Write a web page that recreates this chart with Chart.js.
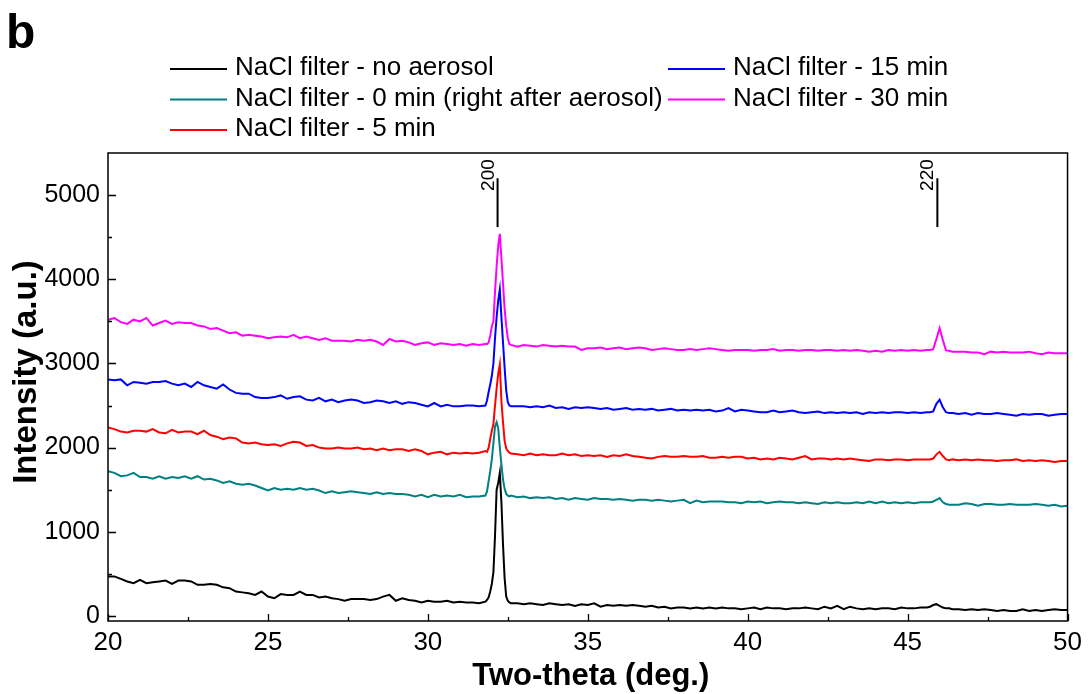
<!DOCTYPE html>
<html>
<head>
<meta charset="utf-8">
<title>NaCl filter XRD</title>
<script src="https://cdn.jsdelivr.net/npm/chart.js@4.4.1/dist/chart.umd.min.js"></script>
<style>
  html, body { margin: 0; padding: 0; background: #fff; }
  #wrap { width: 1088px; height: 694px; }
</style>
</head>
<body>
<div id="wrap"><canvas id="xrdChart" width="1088" height="694"></canvas></div>
<script>
// 2-theta positions (deg.), denser around the 200 and 220 reflections
const twoTheta = [
  20, 20.2, 20.4, 20.6, 20.8, 21, 21.2, 21.4, 21.6, 21.8,
  22, 22.2, 22.4, 22.6, 22.8, 23, 23.2, 23.4, 23.6, 23.8,
  24, 24.2, 24.4, 24.6, 24.8, 25, 25.2, 25.4, 25.6, 25.8,
  26, 26.2, 26.4, 26.6, 26.8, 27, 27.2, 27.4, 27.6, 27.8,
  28, 28.2, 28.4, 28.6, 28.8, 29, 29.2, 29.4, 29.6, 29.8,
  30, 30.2, 30.4, 30.6, 30.8, 31, 31.2, 31.4, 31.6, 31.8,
  31.85, 31.9, 31.95, 32, 32.05, 32.1, 32.15, 32.2, 32.25, 32.3, 32.35, 32.4, 32.45, 32.5, 32.55, 32.6,
  32.8, 33, 33.2, 33.4, 33.6, 33.8, 34, 34.2, 34.4, 34.6,
  34.8, 35, 35.2, 35.4, 35.6, 35.8, 36, 36.2, 36.4, 36.6,
  36.8, 37, 37.2, 37.4, 37.6, 37.8, 38, 38.2, 38.4, 38.6,
  38.8, 39, 39.2, 39.4, 39.6, 39.8, 40, 40.2, 40.4, 40.6,
  40.8, 41, 41.2, 41.4, 41.6, 41.8, 42, 42.2, 42.4, 42.6,
  42.8, 43, 43.2, 43.4, 43.6, 43.8, 44, 44.2, 44.4, 44.6,
  44.8, 45, 45.2, 45.4, 45.6,
  45.7, 45.8, 45.9, 46, 46.1, 46.2, 46.3,
  46.4, 46.6, 46.8, 47, 47.2, 47.4, 47.6, 47.8, 48, 48.2, 48.4, 48.6, 48.8, 49, 49.2, 49.4, 49.6, 49.8, 50
];

const noAerosol = [
  470, 470, 440, 410, 390, 430, 390, 400, 410, 420,
  380, 420, 420, 410, 370, 370, 380, 370, 340, 330,
  290, 280, 270, 250, 290, 230, 210, 260, 250, 250,
  290, 250, 250, 220, 230, 210, 200, 180, 200, 200,
  200, 190, 200, 230, 250, 180, 210, 190, 180, 160,
  180, 170, 170, 180, 160, 170, 160, 160, 150, 170,
  190, 220, 290, 380, 520, 950, 1500, 1580, 1700, 1350, 850, 450, 230, 180, 160, 150,
  150, 140, 150, 140, 130, 150, 140, 130, 140, 120,
  140, 130, 150, 110, 130, 120, 130, 120, 130, 120,
  110, 120, 100, 110, 90, 100, 100, 90, 100, 90,
  100, 90, 100, 90, 90, 80, 90, 100, 80, 100,
  90, 90, 80, 90, 90, 100, 90, 80, 110, 90,
  120, 80, 110, 90, 80, 90, 80, 90, 90, 80,
  100, 90, 90, 100, 100,
  110, 130, 140, 120, 100, 90, 90,
  80, 80, 70, 80, 70, 80, 70, 60, 70, 60, 60, 80, 60, 70, 60, 70, 80, 70, 70
];

const min0 = [
  1720, 1700, 1660, 1670, 1700, 1650, 1650, 1630, 1660, 1630,
  1650, 1640, 1660, 1630, 1660, 1620, 1630, 1610, 1580, 1600,
  1570, 1560, 1570, 1550, 1520, 1490, 1520, 1500, 1510, 1500,
  1520, 1500, 1510, 1490, 1460, 1480, 1460, 1470, 1480, 1470,
  1460, 1450, 1470, 1450, 1460, 1450, 1450, 1440, 1420, 1440,
  1410, 1440, 1420, 1430, 1420, 1440, 1410, 1420, 1420, 1430,
  1480, 1600, 1720, 1860, 2050, 2250, 2300, 2230, 2000, 1800, 1620, 1510, 1450, 1430, 1420, 1430,
  1410, 1420, 1400, 1410, 1400, 1410, 1390, 1400, 1380, 1400,
  1390, 1380, 1400, 1390, 1390, 1380, 1390, 1380, 1370, 1380,
  1380, 1370, 1380, 1370, 1360, 1370, 1380, 1340, 1370, 1350,
  1360, 1360, 1360, 1350, 1350, 1340, 1360, 1350, 1360, 1340,
  1350, 1360, 1350, 1350, 1340, 1350, 1340, 1330, 1350, 1340,
  1350, 1340, 1340, 1350, 1340, 1360, 1340, 1360, 1340, 1350,
  1340, 1350, 1340, 1350, 1350,
  1350, 1360, 1380, 1400, 1350, 1330, 1320,
  1320, 1320, 1340, 1330, 1310, 1330, 1330, 1320, 1320, 1330, 1320, 1320, 1320, 1330, 1320, 1310, 1320, 1300, 1310
];

const min5 = [
  2240, 2220, 2190, 2180, 2200, 2200, 2190, 2220, 2180, 2170,
  2210, 2180, 2190, 2190, 2160, 2200, 2150, 2130, 2100, 2120,
  2110, 2060, 2050, 2060, 2040, 2030, 2040, 2020, 2050, 2070,
  2060, 2020, 2030, 2000, 1990, 1990, 2000, 1990, 1990, 2000,
  1980, 1990, 1970, 1990, 1970, 1980, 1980, 1960, 1980, 1960,
  1920, 1940, 1950, 1920, 1940, 1930, 1940, 1930, 1940, 1960,
  1950, 2000, 2100, 2200, 2280, 2500, 2700, 2880, 2990, 2550, 2300, 2080, 1990, 1960, 1940, 1930,
  1920, 1910, 1930, 1910, 1920, 1910, 1910, 1930, 1910, 1920,
  1900, 1910, 1900, 1910, 1890, 1910, 1900, 1920, 1900, 1890,
  1880, 1870, 1890, 1900, 1890, 1890, 1900, 1890, 1890, 1900,
  1880, 1880, 1890, 1880, 1890, 1890, 1870, 1880, 1860, 1870,
  1860, 1880, 1870, 1860, 1880, 1900, 1860, 1870, 1870, 1860,
  1870, 1860, 1870, 1860, 1850, 1840, 1860, 1860, 1850, 1860,
  1860, 1850, 1860, 1860, 1860,
  1860, 1870, 1920, 1950, 1900, 1860, 1850,
  1860, 1850, 1860, 1850, 1860, 1850, 1850, 1840, 1850, 1850, 1860, 1840, 1850, 1840, 1850, 1840, 1830, 1840, 1840
];

const min15 = [
  2810, 2800, 2810, 2740, 2780, 2770, 2760, 2780, 2780, 2790,
  2760, 2740, 2760, 2720, 2780, 2740, 2720, 2700, 2750, 2690,
  2650, 2640, 2640, 2600, 2590, 2590, 2600, 2620, 2580, 2600,
  2610, 2570, 2560, 2590, 2550, 2570, 2540, 2560, 2570, 2560,
  2530, 2540, 2560, 2550, 2530, 2550, 2520, 2540, 2530, 2510,
  2490, 2530, 2490, 2510, 2490, 2490, 2500, 2500, 2490, 2500,
  2560, 2660, 2750, 2850, 3000, 3300, 3550, 3750, 3880, 3550, 3250, 2950, 2680, 2540, 2500, 2490,
  2490, 2490, 2480, 2490, 2480, 2500, 2470, 2480, 2460, 2480,
  2470, 2480, 2470, 2460, 2470, 2450, 2460, 2470, 2450, 2460,
  2450, 2460, 2440, 2450, 2460, 2440, 2450, 2440, 2450, 2440,
  2450, 2430, 2440, 2470, 2430, 2450, 2440, 2430, 2420, 2420,
  2440, 2420, 2430, 2440, 2420, 2410, 2420, 2430, 2410, 2420,
  2410, 2420, 2410, 2420, 2400, 2420, 2410, 2420, 2410, 2420,
  2420, 2410, 2420, 2410, 2420,
  2420, 2430, 2520, 2570, 2480, 2420, 2410,
  2410, 2400, 2410, 2390, 2410, 2400, 2400, 2410, 2400, 2390, 2380, 2400, 2390, 2400, 2400, 2380, 2390, 2400, 2400
];

const min30 = [
  3520, 3540, 3490, 3470, 3520, 3500, 3540, 3450, 3480, 3510,
  3470, 3490, 3480, 3480, 3450, 3440, 3410, 3420, 3390, 3360,
  3370, 3330, 3340, 3330, 3320, 3300, 3310, 3320, 3310, 3340,
  3300, 3320, 3300, 3280, 3300, 3270, 3270, 3270, 3260, 3280,
  3270, 3280, 3260, 3220, 3290, 3260, 3270, 3250, 3220, 3240,
  3250, 3220, 3240, 3230, 3220, 3230, 3210, 3230, 3220, 3230,
  3230, 3250, 3330, 3440, 3500, 3850, 4150, 4400, 4540, 4250, 3950, 3650, 3450, 3300, 3230, 3220,
  3200, 3220, 3210, 3200, 3220, 3210, 3200, 3210, 3200, 3200,
  3160, 3180, 3180, 3190, 3170, 3180, 3190, 3170, 3180, 3190,
  3180, 3160, 3170, 3180, 3170, 3160, 3160, 3170, 3160, 3170,
  3180, 3170, 3160, 3150, 3160, 3160, 3160, 3150, 3160, 3160,
  3170, 3150, 3160, 3160, 3150, 3160, 3160, 3150, 3160, 3160,
  3150, 3160, 3150, 3160, 3150, 3140, 3150, 3140, 3160, 3150,
  3160, 3150, 3160, 3150, 3160,
  3160, 3170, 3290, 3420, 3280, 3155, 3150,
  3140, 3140, 3140, 3130, 3130, 3110, 3140, 3130, 3140, 3130, 3130, 3130, 3140, 3120, 3110, 3130, 3120, 3120, 3120
];

const seriesLabels = [
  'NaCl filter - no aerosol',
  'NaCl filter - 0 min (right after aerosol)',
  'NaCl filter - 5 min',
  'NaCl filter - 15 min',
  'NaCl filter - 30 min'
];
const seriesColors = ['#000000', '#008080', '#ff0000', '#0000ff', '#ff00ff'];

// labelled (major) ticks and every tick mark drawn on each axis
const xTickLabels = [20, 25, 30, 35, 40, 45, 50];
const xTickMarks = [20, 22.5, 25, 27.5, 30, 32.5, 35, 37.5, 40, 42.5, 45, 47.5, 50];
const yTickLabels = [0, 1000, 2000, 3000, 4000, 5000];
const yTickMarks = [0, 500, 1000, 1500, 2000, 2500, 3000, 3500, 4000, 4500, 5000];

// Miller indices of the NaCl reflections and where they sit
const peakLabels = ['200', '220'];
const peakPositions = [32.18, 45.93];

const FONT = '"Liberation Sans", Arial, Helvetica, sans-serif';

const allSeries = [noAerosol, min0, min5, min15, min30];
allSeries.forEach((s, i) => {
  if (s.length !== twoTheta.length) console.error('length mismatch in series ' + i, s.length, twoTheta.length);
});

// box frame with inward major/minor ticks
const framePlugin = {
  id: 'frame',
  afterDraw(chart) {
    const { ctx, chartArea: a, scales: { x, y } } = chart;
    ctx.save();
    ctx.strokeStyle = '#000';
    ctx.lineWidth = 1.5;
    ctx.strokeRect(a.left, a.top, a.right - a.left, a.bottom - a.top);
    ctx.lineWidth = 1.3;
    ctx.beginPath();
    x.ticks.forEach(t => {
      const len = xTickLabels.includes(t.value) ? 7 : 4;
      const px = Math.round(x.getPixelForValue(t.value)) + 0.5;
      ctx.moveTo(px, a.bottom);
      ctx.lineTo(px, a.bottom - len);
    });
    y.ticks.forEach(t => {
      const len = yTickLabels.includes(t.value) ? 8 : 4;
      const py = Math.round(y.getPixelForValue(t.value)) + 0.5;
      ctx.moveTo(a.left, py);
      ctx.lineTo(a.left + len, py);
    });
    ctx.stroke();
    ctx.restore();
  }
};

// reflection markers, axis titles, panel letter and the two-column legend
const decorPlugin = {
  id: 'decor',
  afterDraw(chart) {
    const { ctx, chartArea: a, scales: { x, y } } = chart;
    ctx.save();
    ctx.fillStyle = '#000';
    ctx.strokeStyle = '#000';

    peakPositions.forEach((p, i) => {
      const px = x.getPixelForValue(p);
      ctx.lineWidth = 2;
      ctx.beginPath();
      ctx.moveTo(px, y.getPixelForValue(5200));
      ctx.lineTo(px, y.getPixelForValue(4620));
      ctx.stroke();
      ctx.save();
      ctx.translate(px - 4, y.getPixelForValue(5050));
      ctx.rotate(-Math.PI / 2);
      ctx.font = '19px ' + FONT;
      ctx.textAlign = 'left';
      ctx.textBaseline = 'alphabetic';
      ctx.fillText(peakLabels[i], 0, 0);
      ctx.restore();
    });

    ctx.font = 'bold 31px ' + FONT;
    ctx.textAlign = 'center';
    ctx.textBaseline = 'alphabetic';
    ctx.fillText('Two-theta (deg.)', (a.left + a.right) / 2 + 3, 685);

    ctx.save();
    ctx.translate(36, 372);
    ctx.rotate(-Math.PI / 2);
    ctx.font = 'bold 33px ' + FONT;
    ctx.fillText('Intensity (a.u.)', 0, 0);
    ctx.restore();

    ctx.font = 'bold 48px ' + FONT;
    ctx.textAlign = 'left';
    ctx.fillText('b', 6, 48);

    const colX = [170, 668];
    const rowY = [69, 99.5, 130];
    ctx.font = '26px ' + FONT;
    chart.data.datasets.forEach((ds, i) => {
      const col = i < 3 ? 0 : 1;
      const row = i < 3 ? i : i - 3;
      const lx = colX[col];
      const ly = rowY[row];
      ctx.strokeStyle = ds.borderColor;
      ctx.lineWidth = 2;
      ctx.beginPath();
      ctx.moveTo(lx, ly);
      ctx.lineTo(lx + 57, ly);
      ctx.stroke();
      ctx.fillStyle = '#000';
      ctx.fillText(ds.label, lx + 65, ly + 6);
    });
    ctx.restore();
  }
};

const datasets = allSeries.map((s, i) => ({
  label: seriesLabels[i],
  data: twoTheta.map((t, j) => ({ x: t, y: s[j] })),
  borderColor: seriesColors[i],
  borderWidth: 2,
  pointRadius: 0,
  tension: 0,
  fill: false
}));

new Chart(document.getElementById('xrdChart'), {
  type: 'line',
  data: { datasets },
  options: {
    responsive: false,
    animation: false,
    layout: { padding: { top: 153, right: 18, left: 0, bottom: 0 } },
    plugins: {
      legend: { display: false },
      tooltip: { enabled: false }
    },
    scales: {
      x: {
        type: 'linear',
        min: 20,
        max: 50,
        grid: { display: false, drawTicks: false },
        border: { display: false },
        afterBuildTicks: scale => { scale.ticks = xTickMarks.map(v => ({ value: v })); },
        ticks: {
          autoSkip: false,
          maxRotation: 0,
          padding: 6,
          color: '#000',
          font: { family: FONT, size: 26 },
          callback: v => xTickLabels.includes(v) ? String(v) : ''
        },
        afterFit: scale => { scale.height = 73; }
      },
      y: {
        type: 'linear',
        min: -60,
        max: 5500,
        grid: { display: false, drawTicks: false },
        border: { display: false },
        afterBuildTicks: scale => { scale.ticks = yTickMarks.map(v => ({ value: v })); },
        ticks: {
          autoSkip: false,
          padding: 8,
          color: '#000',
          font: { family: FONT, size: 25 },
          callback: v => yTickLabels.includes(v) ? String(v) : ''
        },
        afterFit: scale => { scale.width = 108; }
      }
    }
  },
  plugins: [framePlugin, decorPlugin]
});
</script>
</body>
</html>
